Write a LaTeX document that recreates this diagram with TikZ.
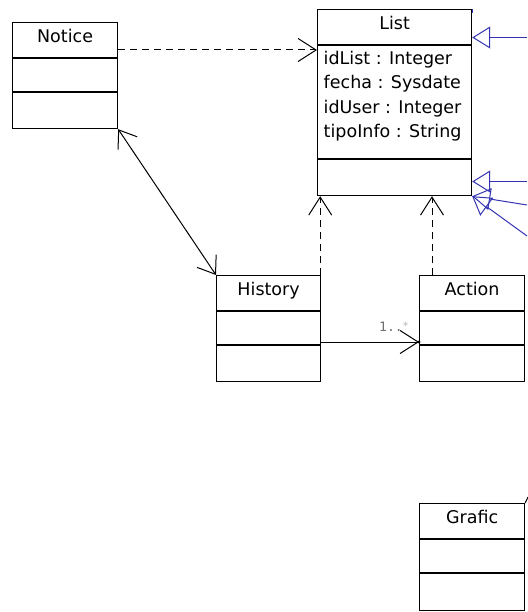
\documentclass[tikz,border=0pt]{standalone}
\usepackage{fontspec}
\setmainfont{DejaVu Sans}
\newfontfamily\monofont{DejaVu Sans Mono}
\usetikzlibrary{arrows.meta,calc}

\definecolor{umlblue}{RGB}{52,52,178}
\definecolor{multgray}{RGB}{110,110,110}

\tikzset{
  x=1pt, y=-1pt,
  classbox/.style={draw, line width=1.2pt, rectangle, anchor=north west,
    inner sep=0pt, fill=white},
  ctitle/.style={anchor=base, inner sep=0pt, font=\fontsize{17.5}{24}\selectfont},
  cattr/.style={anchor=north west, inner sep=0pt, align=left,
    font=\fontsize{17.5}{24.4}\selectfont},
  divider/.style={line width=1.1pt},
  dep/.style={line width=1pt, dash pattern=on 7pt off 5pt, -{Straight Barb[length=18pt, width=23pt]}},
  assoc/.style={line width=1pt},
  gen/.style={draw=umlblue, line width=1pt,
    -{Triangle[open, length=18pt, width=22pt, line width=1pt]}},
}

\begin{document}
\begin{tikzpicture}
\useasboundingbox (0,0) rectangle (527,612);

% ---- classes ----
\node[classbox, minimum width=105pt, minimum height=106pt] (notice) at (12,22) {};
\node[ctitle] (noticeT) at ($(notice.north)+(0,-20.5pt)$) {Notice};
\draw[divider] ([yshift=-36pt]notice.north west) -- ([yshift=-36pt]notice.north east);
\draw[divider] ([yshift=-70pt]notice.north west) -- ([yshift=-70pt]notice.north east);

\node[classbox, minimum width=154pt, minimum height=186pt] (list) at (317,9) {};
\node[ctitle] (listT) at ($(list.north)+(0,-21pt)$) {List};
\draw[divider] ([yshift=-36pt]list.north west) -- ([yshift=-36pt]list.north east);
\draw[divider] ([yshift=-150pt]list.north west) -- ([yshift=-150pt]list.north east);
\node[cattr] (listA) at ($(list.north west)+(6.5pt,-42pt)$)
  {idList : Integer\\fecha : Sysdate\\idUser : Integer\\tipoInfo : String};

\node[classbox, minimum width=104pt, minimum height=106pt] (history) at (216,275) {};
\node[ctitle] (historyT) at ($(history.north)+(0,-20.5pt)$) {History};
\draw[divider] ([yshift=-36pt]history.north west) -- ([yshift=-36pt]history.north east);
\draw[divider] ([yshift=-70pt]history.north west) -- ([yshift=-70pt]history.north east);

\node[classbox, minimum width=105pt, minimum height=106pt] (action) at (419,275) {};
\node[ctitle] (actionT) at ($(action.north)+(0,-20.5pt)$) {Action};
\draw[divider] ([yshift=-36pt]action.north west) -- ([yshift=-36pt]action.north east);
\draw[divider] ([yshift=-70pt]action.north west) -- ([yshift=-70pt]action.north east);

\node[classbox, minimum width=105pt, minimum height=107pt] (grafic) at (419,503) {};
\node[ctitle] (graficT) at ($(grafic.north)+(0,-20.5pt)$) {Grafic};
\draw[divider] ([yshift=-36pt]grafic.north west) -- ([yshift=-36pt]grafic.north east);
\draw[divider] ([yshift=-70pt]grafic.north west) -- ([yshift=-70pt]grafic.north east);

% ---- dependencies ----
\draw[dep] ([yshift=-28pt]notice.north east) -- ([yshift=-28pt]notice.north east -| list.west);
\draw[dep] ([xshift=-1pt]history.north east) -- ([xshift=-1pt]history.north east |- list.south);
\draw[dep] ([xshift=13pt]action.north west) -- ([xshift=13pt]action.north west |- list.south);

% ---- associations ----
\draw[assoc, {Straight Barb[length=16pt, width=23pt]}-{Straight Barb[length=16pt, width=23pt]}]
  (notice.south east) -- (history.north west);
\draw[assoc, -{Straight Barb[length=18pt, width=23pt]}]
  ([yshift=-67pt]history.north east) -- ([yshift=-67pt]history.north east -| action.west) coordinate (hatip);
\fill (hatip) circle (1.6pt);
\node[anchor=base west, inner sep=0pt, text=multgray, font=\monofont\fontsize{13}{13}\selectfont]
  (mult) at (379,331) {1..\raisebox{2pt}{\textcolor{multgray!55}{\fontsize{10}{10}\selectfont*}}};

% ---- generalisations arriving from the right ----
\coordinate (g1) at (527,37.5);
\coordinate (g2) at (527,181.5);
\coordinate (g3) at (527,205);
\coordinate (g4) at (527,236);
\draw[gen] (g1) -- (g1 -| list.east);
\draw[gen] (g2) -- (g2 -| list.east);
\draw[gen] (g3) -- (list.south east);
\draw[gen] (g4) -- (list.south east);
\draw[umlblue, line width=1pt] (list.north east) -- ++(0,-4pt);

% ---- line reaching the Grafic corner ----
\coordinate (gx) at (528,497);
\draw[line width=1pt] (gx) -- (grafic.north east);
\end{tikzpicture}
\end{document}
